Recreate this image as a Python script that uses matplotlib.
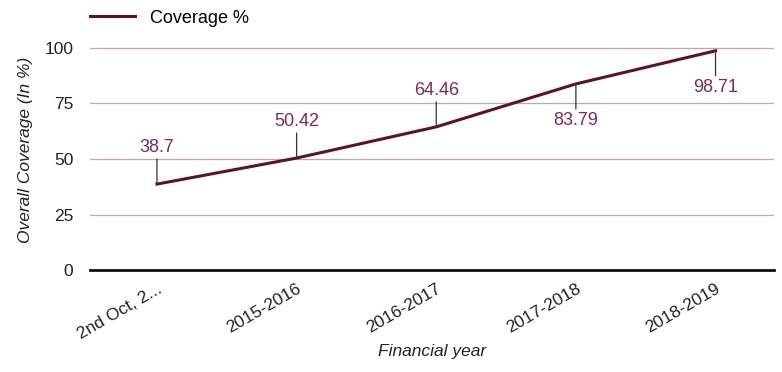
import matplotlib.pyplot as plt

plt.rcParams['font.family'] = ['Liberation Sans', 'DejaVu Sans']

years = ["2nd Oct, 2...", "2015-2016", "2016-2017", "2017-2018", "2018-2019"]
coverage = [38.7, 50.42, 64.46, 83.79, 98.71]
label_above = [True, True, True, False, False]

line_color = "#5e1030"
label_color = "#7e2a55"

fig = plt.figure(figsize=(7.82, 3.72), dpi=100)
ax = fig.add_axes([0.115, 0.274, 0.875, 0.645])

x = list(range(len(years)))
ax.plot(x, coverage, color=line_color, lw=2.2, label="Coverage %")

for xi, v, up in zip(x, coverage, label_above):
    off = 20 if up else -20
    ax.annotate(f"{v:g}", xy=(xi, v), xytext=(0, off), textcoords="offset points",
                ha="center", va="bottom" if up else "top", fontsize=13,
                color=label_color,
                arrowprops=dict(arrowstyle="-", color="#333333", lw=0.9,
                                shrinkA=0, shrinkB=0))

ax.set_xlim(-0.48, 4.42)
ax.set_ylim(0, 108)
ax.set_yticks([0, 25, 50, 75, 100])
ax.grid(axis="y", color="#bfa5ae", lw=0.9)
ax.set_axisbelow(True)
for s in ["top", "right", "left"]:
    ax.spines[s].set_visible(False)
ax.spines["bottom"].set_linewidth(2)
ax.spines["bottom"].set_color("#111111")
ax.tick_params(axis="both", length=0, labelsize=12.5, colors="#222222")
ax.tick_params(axis="y", pad=12)
ax.set_xticks(x)
ax.set_xticklabels(years, rotation=30, ha="right", rotation_mode="anchor")
ax.tick_params(axis="x", pad=8)

ax.set_ylabel("Overall Coverage (In %)", style="italic", fontsize=12.5, color="#222222", labelpad=8)
ax.set_xlabel("Financial year", style="italic", fontsize=12.5, color="#222222", labelpad=2)

ax.legend(loc="lower left", bbox_to_anchor=(-0.01, 0.985), frameon=False,
          fontsize=13, handlelength=2.5, borderaxespad=0)

fig.savefig("out.png", dpi=100)
